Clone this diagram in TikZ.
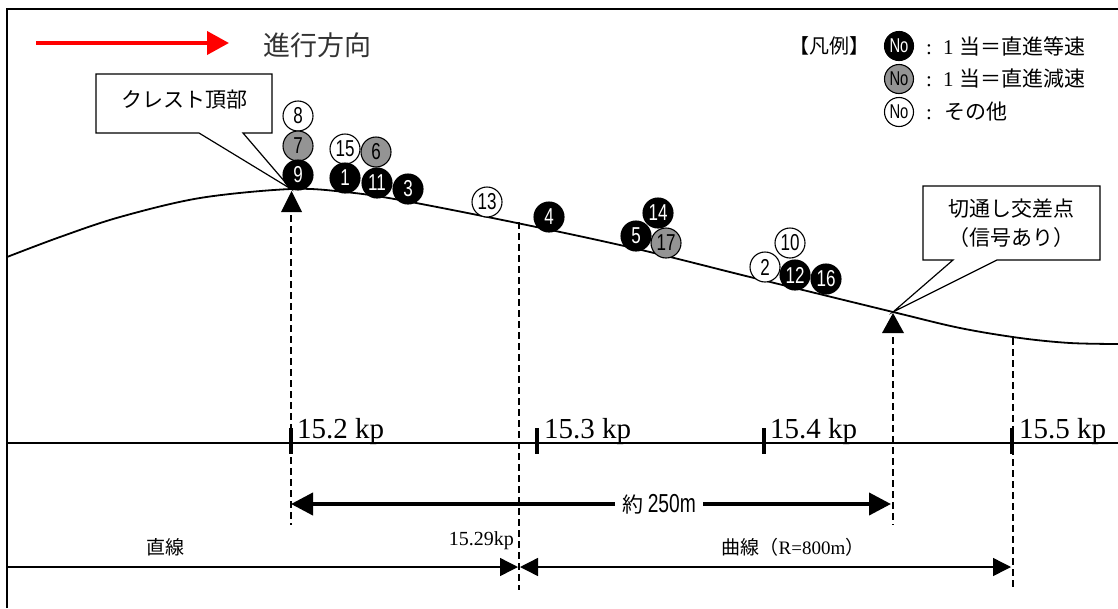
\documentclass[tikz,border=0pt]{standalone}
\usepackage{fontspec}
\setmainfont{Liberation Serif}
\newfontfamily\jp{Noto Sans CJK JP}
\newfontfamily\narrow[FakeStretch=0.74]{Liberation Sans}
\usetikzlibrary{arrows.meta}
\tikzset{
  num/.style={circle, draw=black, line width=1.1pt, minimum size=30pt, inner sep=0pt,
              font=\narrow\fontsize{23}{23}\selectfont},
  blk/.style={num, fill=black, text=white},
  gry/.style={num, fill=black!42},
  wht/.style={num, fill=white},
  leg/.style={circle, draw=black, line width=1.1pt, minimum size=29pt, inner sep=0pt,
              font=\narrow\fontsize{20}{20}\selectfont},
  legtxt/.style={anchor=west, inner sep=0pt, font=\jp\fontsize{21}{21}\selectfont},
  kp/.style={anchor=base west, inner sep=0pt, font=\fontsize{29}{29}\selectfont},
  tick/.style={line width=4.5pt},
  vdash/.style={dashed, dash pattern=on 7pt off 4pt, line width=1.3pt},
  callout/.style={draw=black, line width=1.2pt, fill=white},
}
\newcommand{\legpre}{{\rmfamily :\hspace{11pt}1\hspace{6pt}}}
\begin{document}
\begin{tikzpicture}[x=1pt,y=-1pt]
\useasboundingbox (0,0) rectangle (1118,608);
% frame
\draw[line width=2pt] (7,608) -- (7,9) -- (1118,9);
% direction arrow
\coordinate (ra) at (36,43);
\node[anchor=west, inner sep=0pt, text=black!80, font=\jp\fontsize{27}{27}\selectfont] (dir) at (263,45) {進行方向};
\draw[red, line width=4pt, -{Triangle[length=22pt,width=23pt]}] (ra) -- (229,43);
% legend
\node[anchor=east, inner sep=0pt, font=\jp\fontsize{20}{20}\selectfont] (legt) at (870,46) {【凡例】};
\node[leg, fill=black, text=white] (l1) at (899,46) {No};
\node[leg, fill=black!42] (l2) at (899,79) {No};
\node[leg, fill=white] (l3) at (899,112) {No};
\node[legtxt] (t1) at (926,46) {\legpre 当＝直進等速};
\node[legtxt] (t2) at (926,79) {\legpre 当＝直進減速};
\node[legtxt] (t3) at (926,112) {{\rmfamily :\hspace{12pt}}その他};
% road profile
\draw[line width=1.8pt] plot[smooth, tension=0.55] coordinates {
  (7,257) (60,237) (120,217) (200,198) (291,189) (345,192) (400,200)
  (517,223) (633,248) (750,277) (893,312) (960,328) (1020,338) (1070,343) (1118,344)};
% callout 1
\draw[callout] (96,74) -- (272,74) -- (272,133) -- (243,133) -- (291,189) -- (199,133) -- (96,133) -- cycle;
\node[font=\jp\fontsize{21}{21}\selectfont] (crest) at (184,100) {クレスト頂部};
% callout 2
\draw[callout] (923,186) -- (1100,186) -- (1100,260) -- (997,260) -- (893,312) -- (953,260) -- (923,260) -- cycle;
\node[font=\jp\fontsize{21}{29}\selectfont, align=center] (cut) at (1011,223) {切通し交差点\\（信号あり）};
% triangles
\fill (281,212) -- (302,212) -- (291.5,191) -- cycle;
\fill (882,333) -- (904,333) -- (893,313) -- cycle;
% dashed verticals
\draw[vdash] (291,215) -- (291,525);
\draw[vdash] (519,222) -- (519,590);
\draw[vdash] (893,337) -- (893,525);
\draw[vdash] (1013,338) -- (1013,587);
% circles
\node[wht] (c8) at (298,116) {8};
\node[gry] (c7) at (298,146) {7};
\node[blk] (c9) at (298,175) {9};
\node[wht] (c15) at (345,149) {15};
\node[gry] (c6) at (376,152) {6};
\node[blk] (c1) at (345,178) {1};
\node[blk] (c11) at (377,183) {11};
\node[blk] (c3) at (408,189) {3};
\node[wht] (c13) at (487,202) {13};
\node[blk] (c4) at (549,217) {4};
\node[blk] (c14) at (658,213) {14};
\node[blk] (c5) at (636,236) {5};
\node[gry] (c17) at (666,243) {17};
\node[wht] (c10) at (790,243) {10};
\node[wht] (c2) at (765,267) {2};
\node[blk] (c12) at (795,275) {12};
\node[blk] (c16) at (826,279) {16};
% kp axis
\draw[line width=1.5pt] (7,443) -- (1118,443);
\draw[tick] (291,428) -- (291,454);
\draw[tick] (537,428) -- (537,454);
\draw[tick] (764,428) -- (764,454);
\draw[tick] (1012,428) -- (1012,454);
\node[kp] (k2) at (297,438) {15.2 kp};
\node[kp] (k3) at (544,438) {15.3 kp};
\node[kp] (k4) at (770,438) {15.4 kp};
\node[kp] (k5) at (1019,438) {15.5 kp};
% 250 m dimension
\coordinate (da) at (291,504);
\coordinate (db) at (891,504);
\node[fill=white, inner xsep=7pt, font=\jp\fontsize{21}{21}\selectfont] (dist) at (659,504) {約 {\narrow\fontsize{26}{26}\selectfont 250m}};
\draw[line width=4pt, -{Triangle[length=22pt,width=22pt]}] (dist) -- (da);
\draw[line width=4pt, -{Triangle[length=22pt,width=22pt]}] (dist) -- (db);
% alignment
\coordinate (s0) at (7,567);
\coordinate (s1) at (518,567);
\coordinate (s2) at (520,567);
\coordinate (s3) at (1011,567);
\draw[line width=1.4pt, -{Triangle[length=18pt,width=18pt]}] (s0) -- (s1);
\draw[line width=1.4pt, {Triangle[length=18pt,width=18pt]}-{Triangle[length=18pt,width=18pt]}] (s2) -- (s3);
\node[font=\jp\fontsize{19}{19}\selectfont] (str) at (165,547) {直線};
\node[anchor=east, inner sep=0pt, font=\fontsize{20}{20}\selectfont] (kp29) at (514,541) {15.29kp};
\node[font=\jp\fontsize{19}{19}\selectfont] (crv) at (793,547) {曲線（{\rmfamily R=800m}）};
\end{tikzpicture}
\end{document}
